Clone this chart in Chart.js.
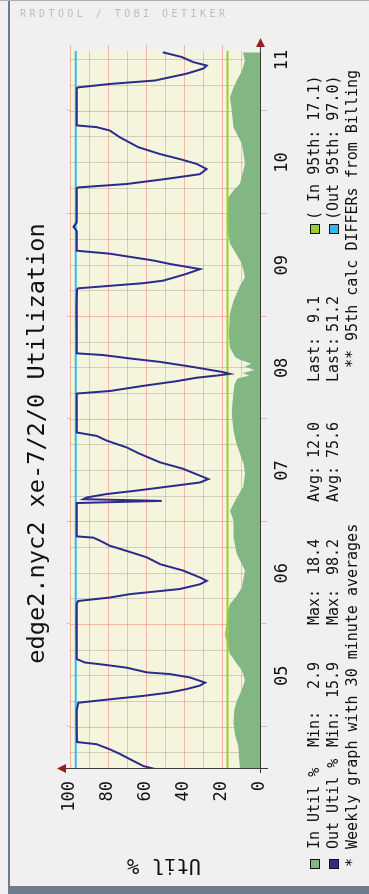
<!DOCTYPE html>
<html>
<head>
<meta charset="utf-8">
<script src="https://cdn.jsdelivr.net/npm/chart.js@4.4.1/dist/chart.umd.min.js"></script>
<style>
  html, body { margin: 0; padding: 0; }
  body {
    width: 369px; height: 894px; position: relative; overflow: hidden;
    background: #f0f0f0; font-family: "DejaVu Sans Mono", monospace;
  }
  /* the rrd graph is drawn the normal way round, then turned a quarter left */
  #frame {
    position: absolute; left: 0; top: 0; width: 894px; height: 369px;
    transform-origin: 0 0; transform: translate(0, 894px) rotate(-90deg);
  }
  #graph { position: absolute; left: 0; top: 0; }
  .txt { position: absolute; white-space: pre; line-height: 1; color: #111; }
  .box { position: absolute; width: 8px; height: 8px; border: 1px solid #111; }
  #mark {
    position: absolute; left: 20px; top: 9px; font-size: 10px; line-height: 1;
    letter-spacing: 3.45px; color: #bdbdbd; white-space: pre;
  }
  .edge { position: absolute; background: #6e7c8d; }
</style>
</head>
<body>
<div id="frame">
  <canvas id="graph" width="894" height="369"></canvas>
</div>
<div id="mark">RRDTOOL / TOBI OETIKER</div>
<div class="edge" style="left:8px; top:0; width:2px; height:894px;"></div>
<div class="edge" style="left:8px; top:886px; width:361px; height:8px;"></div>
<div class="edge" style="left:0; top:0; width:369px; height:1px; background:#a9adb2;"></div>
<script>
const titleText = "edge2.nyc2 xe-7/2/0 Utilization";
const unitLabel = "Util %";
const dayLabels = ["05", "06", "07", "08", "09", "10", "11"];
const dayNoonHours = [36, 60, 84, 108, 132, 156, 180];
const utilTickValues = [0, 20, 40, 60, 80, 100];

// hours counted from day 04 00:00
const inHours = [14.2, 17, 19.6, 22, 24.9, 28, 30.1, 32.7, 35, 37.3, 39, 41.1, 43, 45.5, 48.9, 51, 52.8, 54.5, 56.6, 60.6,
  62.5, 64.5, 68.3, 72.3, 74.6, 76.9, 80.2, 83.2, 85.5, 87.9, 90.5, 93.3, 97.3, 100, 102, 104, 105.5, 106.2, 106.8, 107.5,
  108.3, 109, 109.8, 110.5, 112.7, 116, 120.7, 123.7, 127.2, 129.2, 132.4, 135, 137.1, 140, 142.5, 145, 147.8, 149.5, 151.1, 155.8,
  160.5, 164.2, 168.2, 171.2, 173, 175.2, 177.5, 179.9, 181.8];
const inUtil = [10.5, 11.0, 11.5, 13.0, 14.0, 13.5, 12.3, 9.6, 7.9, 9.6, 12.5, 15.8, 17.0, 18.4, 17.5, 17.0, 15.8, 12.5, 9.6, 7.9,
  10.0, 12.3, 14.0, 14.0, 15.8, 13.2, 8.8, 7.9, 8.5, 10.5, 12.5, 14.0, 14.9, 14.5, 14.0, 13.5, 12.0, 5.5, 9.0, 2.9,
  8.0, 4.5, 10.0, 13.0, 15.8, 16.5, 15.8, 14.0, 10.5, 7.9, 9.6, 13.0, 15.8, 17.0, 17.5, 17.0, 16.7, 14.0, 10.5, 7.9,
  9.6, 14.0, 14.9, 15.8, 14.5, 12.3, 9.5, 7.9, 9.1];

const outHours = [14.2, 14.9, 16.1, 17.7, 18.8, 20, 20.5, 24, 28, 29.7, 30.5, 31.3, 32.1, 32.9, 33.7, 34.4, 35.6, 36.4, 36.8, 37.9,
  38.7, 39.1, 39.9, 44, 48, 53, 53.5, 54.3, 55.1, 56.3, 57.4, 58.2, 59, 60.6, 62.1, 63.7, 65.2, 66.4, 67.6, 68.3,
  68.6, 72, 76.4, 76.9, 77.3, 77.7, 78.5, 79.3, 80.4, 81.2, 82, 82.8, 84.4, 85.9, 87.9, 89.4, 91, 92.1, 92.9, 97,
  102, 102.6, 103.8, 104.9, 105.7, 106.2, 106.6, 107, 108.2, 109.4, 110.2, 111, 111.4, 116, 121, 126.3, 126.6, 127.8, 128.4, 130,
  131.1, 132.3, 133.1, 134.7, 135.4, 140, 141, 142, 150, 150.2, 151, 152.2, 153.3, 154.5, 155.7, 156.8, 158, 159.6, 161.9, 163.5,
  164.3, 164.7, 169, 173.4, 173.6, 174.4, 175.2, 176.8, 178, 178.7, 179.5, 180.7, 181.8];
const outUtil = [55.3, 61.4, 66.7, 73.7, 79.0, 86.0, 96.3, 96.5, 96.4, 95.6, 79.0, 61.4, 47.4, 38.6, 31.6, 28.9, 36.8, 47.4, 59.6, 70.2,
  84.2, 92.1, 96.5, 96.4, 96.6, 96.4, 95.6, 79.0, 68.4, 42.1, 31.6, 28.0, 31.6, 40.4, 52.6, 59.6, 70.2, 79.0, 84.2, 87.7,
  96.5, 96.4, 96.5, 51.7, 93.0, 91.2, 80.7, 64.9, 45.6, 31.6, 27.2, 31.6, 40.4, 52.6, 63.2, 70.2, 80.7, 86.0, 96.5, 96.4,
  96.5, 78.9, 61.4, 43.8, 33.3, 22.8, 15.9, 19.3, 35.1, 52.6, 68.4, 82.5, 96.5, 96.4, 96.6, 96.3, 95.8, 61.6, 50.9, 38.6,
  31.6, 47.4, 56.0, 79.0, 96.5, 96.4, 98.2, 96.5, 96.4, 95.6, 70.2, 49.1, 31.6, 28.1, 33.3, 42.0, 52.6, 64.0, 73.7, 79.0,
  86.0, 96.5, 96.4, 96.5, 95.6, 78.9, 55.3, 38.6, 29.8, 28.1, 35.1, 41.2, 51.2];

const legendNames = ["In Util %", "Out Util %"];
const legendShort = ["In", "Out"];
const legendMin = [2.9, 15.9];
const legendMax = [18.4, 98.2];
const legendAvg = [12.0, 75.6];
const legendLast = [9.1, 51.2];
const pct95 = [17.1, 97.0];
const footNotes = ["* Weekly graph with 30 minute averages", "** 95th calc DIFFERs from Billing"];

const xMin = 14.2;
const xMax = 182.1;
const inColor = "#82b682";
const outColor = "#2b2b8e";
const pctColors = ["#9acd32", "#38b8ea"];
const majorGrid = "rgba(255, 40, 20, 0.3)";
const minorGrid = "rgba(120, 120, 110, 0.3)";

const toPoints = (xs, ys) => xs.map((x, i) => ({ x: x, y: ys[i] }));
const flatLine = (v) => [{ x: xMin, y: v }, { x: xMax, y: v }];

// beige canvas behind the plot, then axes with rrd style arrows on top
const plotBack = {
  id: "plotBack",
  beforeDraw(chart) {
    const { ctx, chartArea: a } = chart;
    ctx.save();
    ctx.fillStyle = "#f5f5dd";
    ctx.fillRect(a.left, a.top, a.right - a.left, a.bottom - a.top);
    ctx.restore();
  },
};
const axisArrows = {
  id: "axisArrows",
  afterDraw(chart) {
    const { ctx, chartArea: a, scales } = chart;
    const yb = Math.round(a.bottom) + 0.5;
    const xl = Math.round(a.left) + 0.5;
    ctx.save();
    // major grid lines poke a little out of the plot, like rrdtool does
    ctx.strokeStyle = majorGrid;
    ctx.lineWidth = 1;
    ctx.beginPath();
    scales.x.ticks.forEach((t) => {
      if (t.value % 24 !== 0) return;
      const px = Math.round(scales.x.getPixelForValue(t.value)) + 0.5;
      ctx.moveTo(px, a.top - 3);
      ctx.lineTo(px, a.top);
      ctx.moveTo(px, a.bottom);
      ctx.lineTo(px, a.bottom + 7);
    });
    scales.y.ticks.forEach((t) => {
      if (t.value % 20 !== 0 || t.value === 0) return;
      const py = Math.round(scales.y.getPixelForValue(t.value)) + 0.5;
      ctx.moveTo(a.right, py);
      ctx.lineTo(a.right + 6, py);
    });
    ctx.stroke();
    ctx.strokeStyle = "#3c3c3c";
    ctx.beginPath();
    ctx.moveTo(a.left - 4, yb);
    ctx.lineTo(a.right + 5, yb);
    ctx.moveTo(xl, a.bottom + 8);
    ctx.lineTo(xl, a.top - 5);
    ctx.stroke();
    ctx.fillStyle = "#9a1e1e";
    ctx.beginPath();
    ctx.moveTo(a.right + 13, yb);
    ctx.lineTo(a.right + 4, yb - 4.5);
    ctx.lineTo(a.right + 4, yb + 4.5);
    ctx.closePath();
    ctx.fill();
    ctx.beginPath();
    ctx.moveTo(xl, a.top - 13);
    ctx.lineTo(xl - 4.5, a.top - 4);
    ctx.lineTo(xl + 4.5, a.top - 4);
    ctx.closePath();
    ctx.fill();
    ctx.restore();
  },
};

const tickFont = { family: "DejaVu Sans Mono", size: 17 };

new Chart(document.getElementById("graph").getContext("2d"), {
  type: "line",
  data: {
    datasets: [
      { label: legendNames[1], data: toPoints(outHours, outUtil), borderColor: outColor, borderWidth: 2,
        pointRadius: 0, fill: false, order: 1 },
      { label: "Out 95th", data: flatLine(pct95[1]), borderColor: pctColors[1], borderWidth: 2,
        pointRadius: 0, fill: false, order: 2 },
      { label: "In 95th", data: flatLine(pct95[0]), borderColor: pctColors[0], borderWidth: 2,
        pointRadius: 0, fill: false, order: 3 },
      { label: legendNames[0], data: toPoints(inHours, inUtil), borderColor: "rgba(0,0,0,0)", borderWidth: 1,
        backgroundColor: inColor, pointRadius: 0, fill: "origin", order: 4 },
    ],
  },
  options: {
    responsive: false,
    animation: false,
    devicePixelRatio: 1,
    layout: { padding: { left: 0, right: 51, top: 70, bottom: 0 } },
    plugins: { legend: { display: false }, tooltip: { enabled: false } },
    scales: {
      x: {
        type: "linear",
        min: xMin,
        max: xMax,
        z: 1,
        border: { display: false },
        grid: {
          drawTicks: false,
          color: (c) => (c.tick && c.tick.value % 24 === 0 ? majorGrid : minorGrid),
        },
        ticks: {
          stepSize: 6,
          includeBounds: false,
          autoSkip: false,
          maxRotation: 0,
          padding: 12,
          color: "#111",
          font: tickFont,
          callback: (v) => {
            const i = dayNoonHours.indexOf(v);
            return i >= 0 ? dayLabels[i] : "";
          },
        },
        afterFit: (s) => { s.height = 109; },
      },
      y: {
        min: 0,
        max: 100,
        z: 1,
        border: { display: false },
        grid: {
          drawTicks: false,
          color: (c) => (c.tick && c.tick.value % 20 === 0 ? majorGrid : minorGrid),
        },
        ticks: {
          stepSize: 10,
          autoSkip: false,
          padding: 12,
          color: "#111",
          font: tickFont,
          callback: (v) => (utilTickValues.includes(v) ? String(v) : ""),
        },
        afterFit: (s) => { s.width = 125; },
      },
    },
  },
  plugins: [plotBack, axisArrows],
});

// texts of the graph, placed in the unrotated frame (u along, v down)
const frame = document.getElementById("frame");
const addText = (str, u, base, size, right) => {
  const el = document.createElement("div");
  el.className = "txt";
  el.textContent = str;
  el.style.fontSize = size + "px";
  if (right) el.style.right = (894 - u) + "px";
  else el.style.left = u + "px";
  el.style.top = (base - size * 0.846) + "px";
  frame.appendChild(el);
  return el;
};
const addBox = (u, v, color) => {
  const el = document.createElement("div");
  el.className = "box";
  el.style.left = u + "px";
  el.style.top = v + "px";
  el.style.background = color;
  frame.appendChild(el);
};

const title = addText(titleText, 0, 45, 23.6);
title.style.width = "901px";
title.style.textAlign = "center";

const unit = addText(unitLabel, 28, 164, 20.5);
unit.style.top = "164px";
unit.style.transform = "translate(-50%, -50%) rotate(-90deg)";

const rowBase = [320, 339];
legendNames.forEach((name, i) => {
  const b = rowBase[i];
  addBox(25, b - 10, i === 0 ? inColor : outColor);
  addText(name, 45, b, 15);
  addText("Min:", 147, b, 15);
  addText(legendMin[i].toFixed(1), 232, b, 15, true);
  addText("Max:", 269, b, 15);
  addText(legendMax[i].toFixed(1), 355, b, 15, true);
  addText("Avg:", 392, b, 15);
  addText(legendAvg[i].toFixed(1), 472, b, 15, true);
  addText("Last:", 512, b, 15);
  addText(legendLast[i].toFixed(1), 598, b, 15, true);
  addBox(660, b - 10, pctColors[i]);
  addText("(" + legendShort[i].padStart(3) + " 95th: " + pct95[i].toFixed(1) + ")", 674, b, 15);
});
addText(footNotes[0], 27, 358, 15);
addText(footNotes[1], 824, 358, 15, true);
</script>
</body>
</html>
